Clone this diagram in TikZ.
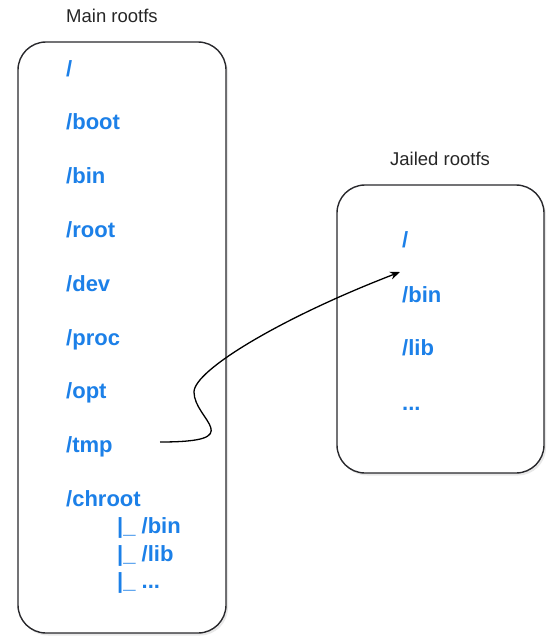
\documentclass[tikz,border=0pt]{standalone}
\usepackage{fontspec}
\setmainfont{Liberation Sans}
\usetikzlibrary{arrows.meta,shadows}

\definecolor{dirblue}{RGB}{28,128,232}
\definecolor{boxgray}{RGB}{40,40,44}

\tikzset{
  rootbox/.style={line width=1.4pt, draw=boxgray, fill=white, rounded corners=28pt,
    drop shadow={opacity=0.18, shadow xshift=2pt, shadow yshift=-2.5pt}},
  fstitle/.style={anchor=base west, inner sep=0pt, font=\fontsize{18.5}{20}\selectfont, text=black!85},
  dirname/.style={anchor=base west, inner sep=0pt, font=\fontsize{22}{24}\selectfont\bfseries, text=dirblue},
  jump/.style={line width=1.3pt, -{Stealth[length=10pt, width=8pt]}}
}

\begin{document}
\begin{tikzpicture}[x=1pt, y=-1pt]
    \useasboundingbox (0,0) rectangle (548,637);

    % main rootfs
    \node[fstitle] (maintitle) at (66,23) {Main rootfs};
    \path[rootbox] (18,42) rectangle (226,633);

    \node[dirname] (mroot)   at (66,76)  {/};
    \node[dirname] (mboot)   at (66,129) {/boot};
    \node[dirname] (mbin)    at (66,183) {/bin};
    \node[dirname] (mhome)   at (66,237) {/root};
    \node[dirname] (mdev)    at (66,291) {/dev};
    \node[dirname] (mproc)   at (66,345) {/proc};
    \node[dirname] (mopt)    at (66,398) {/opt};
    \node[dirname] (mtmp)    at (66,452) {/tmp};
    \node[dirname] (mchroot) at (66,506) {/chroot};
    \node[dirname] (cbin)    at (117,533) {|\_ /bin};
    \node[dirname] (clib)    at (117,561) {|\_ /lib};
    \node[dirname] (cmore)   at (117,588) {|\_ ...};

    % jailed rootfs
    \node[fstitle] (jailtitle) at (390,165) {Jailed rootfs};
    \path[rootbox] (337,185) rectangle (544,473);

    \node[dirname] (jroot) at (402,247) {/};
    \node[dirname] (jbin)  at (402,302) {/bin};
    \node[dirname] (jlib)  at (402,355) {/lib};
    \node[dirname] (jmore) at (402,410) {...};

    % /chroot becomes / for the jail
    \coordinate (tmpout) at (160,442);
    \coordinate (jailin) at (400,272);
    \draw[jump] (tmpout) .. controls (250,442) and (194,420) .. (194,392)
                         .. controls (194,370) and (283,317) .. (jailin);
  \end{tikzpicture}
\end{document}
